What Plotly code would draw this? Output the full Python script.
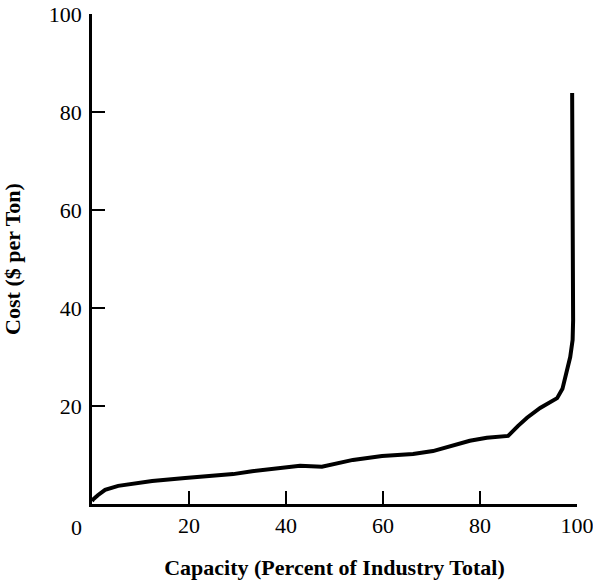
import plotly.graph_objects as go

capacity = [0, 0.2, 1.2, 2.7, 5.4, 8.5, 12.4, 19.2, 27.4, 29.1, 33.0, 38.0, 42.9, 47.4,
            50.5, 53.8, 59.8, 66.2, 70.3, 74.4, 77.9, 81.4, 85.8, 87.8, 89.7, 92.4,
            95.9, 97.0, 97.5, 97.9, 98.6, 99.1, 99.2, 99.1, 99.0]
cost = [0.6, 0.9, 1.8, 2.9, 3.7, 4.2, 4.7, 5.3, 5.9, 6.1, 6.7, 7.3, 7.8, 7.6,
        8.3, 9.0, 9.8, 10.2, 10.8, 12.0, 12.9, 13.5, 13.9, 15.9, 17.6, 19.6,
        21.6, 23.5, 25.3, 27.3, 30.0, 33.5, 37.5, 60.0, 83.9]

x_ticks = [20, 40, 60, 80, 100]
y_ticks = [20, 40, 60, 80, 100]

FONT = "Liberation Serif"

fig = go.Figure()
fig.add_trace(go.Scatter(x=capacity, y=cost, mode="lines",
                         line=dict(color="black", width=4), hoverinfo="skip"))

fig.add_annotation(x=0, y=0, xref="x", yref="y", text="0", showarrow=False,
                   xanchor="center", yanchor="top", xshift=-16, yshift=-9,
                   font=dict(family=FONT, size=22, color="black"))

fig.update_layout(
    width=593, height=580,
    margin=dict(l=92, r=16, t=14, b=76),
    paper_bgcolor="white", plot_bgcolor="white",
    showlegend=False,
    font=dict(family=FONT, color="black"),
)
fig.update_xaxes(range=[0, 100], tickvals=x_ticks, ticktext=[str(v) for v in x_ticks],
                 automargin=False, ticklabeloverflow="allow",
                 showline=True, linecolor="black", linewidth=2.5,
                 ticks="inside", ticklen=13, tickwidth=2, tickcolor="black",
                 showgrid=False, zeroline=False,
                 tickfont=dict(family=FONT, size=22, color="black"),
                 title=dict(text="Capacity (Percent of Industry Total)", standoff=24,
                            font=dict(family=FONT, size=22, color="black", weight="bold")))
fig.update_yaxes(range=[0, 100], tickvals=y_ticks, ticktext=[str(v) for v in y_ticks],
                 automargin=False, ticklabelstandoff=3, ticklabeloverflow="allow",
                 showline=True, linecolor="black", linewidth=2.5,
                 ticks="inside", ticklen=13, tickwidth=2, tickcolor="black",
                 showgrid=False, zeroline=False,
                 tickfont=dict(family=FONT, size=22, color="black"),
                 title=dict(text="Cost ($ per Ton)", standoff=34,
                            font=dict(family=FONT, size=22, color="black", weight="bold")))

fig.write_html("out.html", config={"displayModeBar": False},
               post_script="document.body.style.margin='0';document.body.style.overflow='hidden';")
